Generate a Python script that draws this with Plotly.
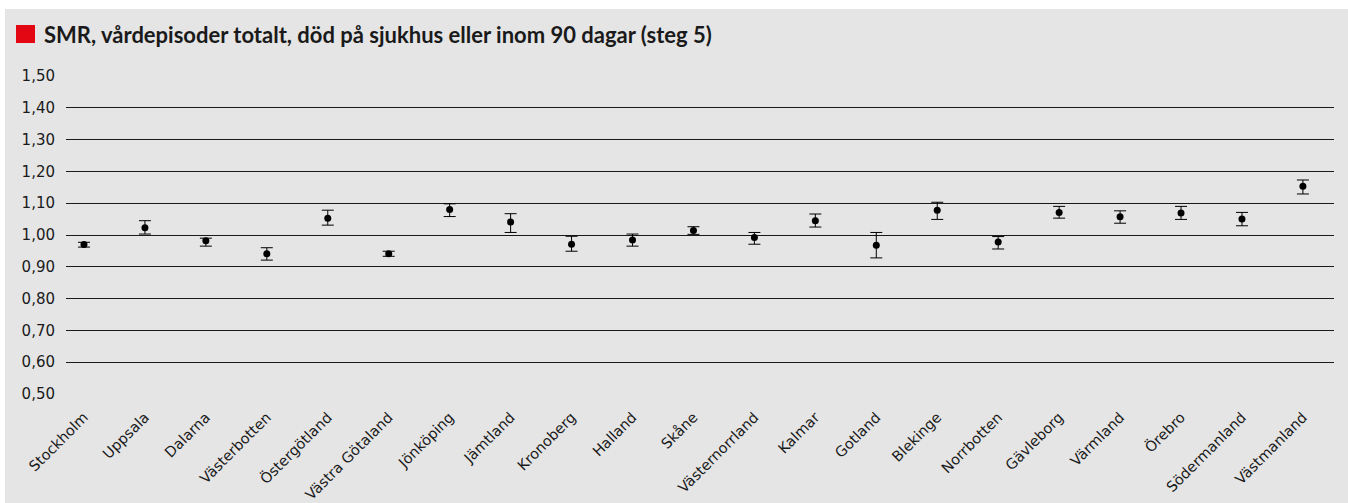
import plotly.graph_objects as go

regions = ["Stockholm", "Uppsala", "Dalarna", "Västerbotten", "Östergötland",
           "Västra Götaland", "Jönköping", "Jämtland", "Kronoberg", "Halland",
           "Skåne", "Västernorrland", "Kalmar", "Gotland", "Blekinge",
           "Norrbotten", "Gävleborg", "Värmland", "Örebro", "Södermanland",
           "Västmanland"]
smr = [0.970, 1.023, 0.982, 0.941, 1.053, 0.941, 1.080, 1.041, 0.971, 0.984,
       1.014, 0.992, 1.045, 0.968, 1.078, 0.978, 1.071, 1.057, 1.069, 1.050,
       1.153]
ci_low = [0.962, 1.003, 0.965, 0.921, 1.031, 0.933, 1.058, 1.008, 0.949, 0.965,
          1.002, 0.971, 1.025, 0.928, 1.049, 0.956, 1.053, 1.037, 1.049, 1.029,
          1.129]
ci_high = [0.977, 1.045, 0.990, 0.960, 1.078, 0.949, 1.098, 1.067, 0.996, 1.003,
           1.026, 1.008, 1.066, 1.008, 1.103, 0.995, 1.090, 1.076, 1.090, 1.071,
           1.173]
y_ticks = [0.5, 0.6, 0.7, 0.8, 0.9, 1.0, 1.1, 1.2, 1.3, 1.4, 1.5]
y_tick_labels = ["0,50", "0,60", "0,70", "0,80", "0,90", "1,00", "1,10",
                 "1,20", "1,30", "1,40", "1,50"]
title_text = "SMR, vårdepisoder totalt, död på sjukhus eller inom 90 dagar (steg 5)"

x_idx = list(range(len(regions)))
err_plus = [h - v for h, v in zip(ci_high, smr)]
err_minus = [v - l for v, l in zip(smr, ci_low)]

W, H = 1348, 503
L, R, T, B = 66, 14, 76, 109
pw, ph = W - L - R, H - T - B

def px_x(px):
    return (px - L) / pw

def px_y(py):
    return (H - B - py) / ph

fig = go.Figure()
fig.add_trace(go.Scatter(
    x=x_idx, y=smr, mode="markers",
    marker=dict(color="black", size=7),
    error_y=dict(type="data", symmetric=False, array=err_plus,
                 arrayminus=err_minus, color="black", thickness=1, width=6),
    hoverinfo="skip", showlegend=False,
))

shapes = [
    dict(type="rect", xref="paper", yref="paper", layer="below",
         x0=px_x(5), x1=px_x(W + 5), y0=px_y(H + 5), y1=px_y(9),
         fillcolor="#e5e5e5", line=dict(width=0)),
    dict(type="rect", xref="paper", yref="paper",
         x0=px_x(16), x1=px_x(35), y0=px_y(43), y1=px_y(25),
         fillcolor="#e30613", line=dict(width=0)),
]

tick_font = dict(family="DejaVu Sans", size=15, color="#1a1a1a")
x_tick_font = dict(family="DejaVu Sans", size=14.5, color="#1a1a1a")

fig.update_layout(
    width=W, height=H,
    margin=dict(l=L, r=R, t=T, b=B, pad=0, autoexpand=False),
    paper_bgcolor="white", plot_bgcolor="rgba(0,0,0,0)",
    shapes=shapes,
    font=tick_font,
    annotations=[dict(
        text="<b>" + title_text + "</b>", xref="paper", yref="paper",
        x=px_x(42), y=px_y(35), xanchor="left", yanchor="middle",
        showarrow=False, font=dict(family="Lato", size=22, color="#1a1a1a"),
    )],
    xaxis=dict(range=[-0.295, 20.51], tickmode="array", tickvals=x_idx,
               ticktext=regions, tickangle=-45, showgrid=False,
               zeroline=False, showline=False, ticks="", automargin=False,
               ticklabelstandoff=11, tickfont=x_tick_font),
    yaxis=dict(range=[0.5, 1.5], tickmode="array", tickvals=y_ticks,
               ticktext=y_tick_labels, showgrid=True, gridcolor="#1a1a1a",
               gridwidth=1.4, zeroline=False, showline=False, ticks="",
               automargin=False, ticklabelstandoff=10, tickfont=tick_font),
)

fig.write_html(
    "out.html",
    config={"displayModeBar": False},
    post_script="document.body.style.margin='0';document.body.style.overflow='hidden';",
)
